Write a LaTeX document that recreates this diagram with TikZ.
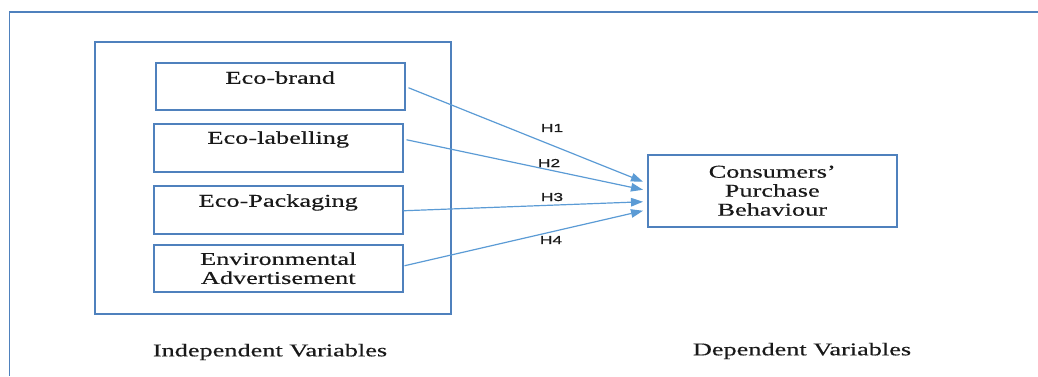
\documentclass[tikz,border=0pt]{standalone}
\usepackage{fontspec}
\setmainfont{Liberation Serif}
\newfontfamily\wideserif[FakeStretch=1.46,FakeBold=0.45]{Liberation Serif}
\newfontfamily\widesans[FakeStretch=1.5,FakeBold=0.6]{Liberation Sans}
\usetikzlibrary{arrows.meta}
\definecolor{frameblue}{RGB}{79,129,189}
\definecolor{arrowblue}{RGB}{91,155,213}
\definecolor{txt}{RGB}{25,25,25}
\tikzset{
  varbox/.style={draw=frameblue, line width=1.5pt, inner sep=0pt, minimum width=249pt,
    anchor=north west, text=txt, font=\wideserif\fontsize{18}{19}\selectfont, align=center},
  caption/.style={text=txt, font=\wideserif\fontsize{18}{19}\selectfont},
  hyp/.style={text=txt, font=\widesans\fontsize{11.6}{12}\selectfont},
  arr/.style={draw=arrowblue, line width=1.2pt, -{Triangle[length=12pt,width=8.5pt]}}
}
\begin{document}
\begin{tikzpicture}[x=1pt,y=-1pt]
\useasboundingbox (0,0) rectangle (1038,376);
% outer frame
\draw[frameblue, line width=1.6pt] (1038,12) -- (9.5,12) -- (9.5,376);
% inner frame
\node[draw=frameblue, line width=1.6pt, inner sep=0pt, anchor=north west,
      minimum width=356pt, minimum height=272pt] (iv) at (94,41) {};
% variable boxes
\node[varbox, text height=21pt, text depth=26pt] (b1) at (155,62) {Eco-brand};
\node[varbox, text height=20pt, text depth=28pt] (b2) at (153,123) {Eco-labelling};
\node[varbox, text height=21pt, text depth=27pt] (b3) at (153,185) {Eco-Packaging};
\node[varbox, minimum height=47pt] (b4) at (153,244) {Environmental\\Advertisement};
\node[varbox, minimum height=72pt] (cpb) at (647,154) {Consumers’\\Purchase\\Behaviour};
% arrows
\draw[arr] ([shift={(3pt,-1.5pt)}]b1.east) -- ([shift={(-4pt,9pt)}]cpb.west);
\draw[arr] ([shift={(3pt,8pt)}]b2.east) -- ([shift={(-4pt,1pt)}]cpb.west);
\draw[arr] ([shift={(0pt,-1pt)}]b3.east) -- ([shift={(-4pt,-11pt)}]cpb.west);
\draw[arr] ([shift={(1pt,2.5pt)}]b4.east) -- ([shift={(-4pt,-20pt)}]cpb.west);
% hypothesis labels
\node[hyp] (h1) at (552,128) {H1};
\node[hyp] (h2) at (549,163) {H2};
\node[hyp] (h3) at (552,197) {H3};
\node[hyp] (h4) at (551,240) {H4};
% captions
\node[caption] (ind) at (270,352) {Independent Variables};
\node[caption] (dep) at (802,351) {Dependent Variables};
\end{tikzpicture}
\end{document}
